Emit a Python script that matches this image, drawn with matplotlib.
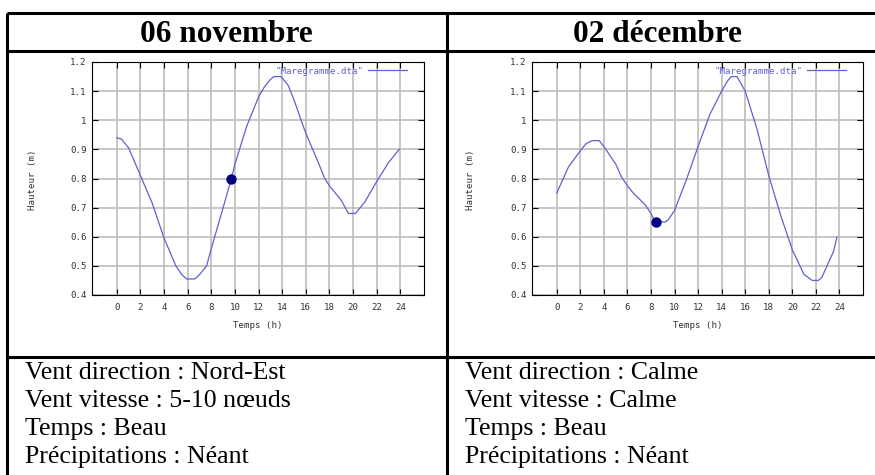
import matplotlib
matplotlib.use('Agg')
import matplotlib.pyplot as plt
from matplotlib.ticker import FuncFormatter, MultipleLocator

W, H = 875, 475  # figure size in pixels

hours_nov = [0, 0.4, 1, 2, 3, 4, 5, 5.5, 5.9, 6.6, 7, 7.6, 8, 9, 9.7, 10, 11, 12, 12.5, 13,
             13.3, 13.9, 14.5, 15, 15.6, 16, 17, 17.6, 18, 19, 19.6, 20.2, 21, 22, 23, 23.9]
height_nov = [0.94, 0.935, 0.905, 0.81, 0.715, 0.595, 0.50, 0.47, 0.455, 0.455, 0.47, 0.50, 0.56,
              0.70, 0.80, 0.85, 0.98, 1.08, 1.115, 1.14, 1.15, 1.15, 1.12, 1.07, 1.00, 0.955,
              0.86, 0.80, 0.775, 0.725, 0.68, 0.68, 0.72, 0.79, 0.855, 0.90]

hours_dec = [0, 1, 2, 2.5, 3, 3.6, 4, 5, 5.5, 6, 6.5, 7, 7.5, 8, 8.3, 9.2, 9.5, 10, 11, 12, 13,
             14, 14.5, 14.8, 15.3, 16, 17, 18, 19, 20, 21, 21.7, 22.2, 22.5, 23, 23.5, 23.8]
height_dec = [0.75, 0.84, 0.895, 0.92, 0.93, 0.93, 0.91, 0.85, 0.805, 0.775, 0.75, 0.73, 0.71,
              0.68, 0.655, 0.65, 0.66, 0.69, 0.795, 0.91, 1.02, 1.10, 1.135, 1.15, 1.15, 1.10,
              0.97, 0.81, 0.675, 0.555, 0.47, 0.45, 0.45, 0.46, 0.505, 0.55, 0.60]

# current time marker on each day
now_nov = (9.7, 0.80)
now_dec = (8.45, 0.65)

titles = ['06 novembre', '02 décembre']
infos = [
    ['Vent direction : Nord-Est', 'Vent vitesse : 5-10 nœuds', 'Temps : Beau',
     'Précipitations : Néant'],
    ['Vent direction : Calme', 'Vent vitesse : Calme', 'Temps : Beau',
     'Précipitations : Néant'],
]

fig = plt.figure(figsize=(W / 100, H / 100), dpi=100)
fig.patch.set_facecolor('white')

# table grid drawn on a full-figure overlay in pixel coordinates
tab = fig.add_axes([0, 0, 1, 1])
tab.set_xlim(0, W)
tab.set_ylim(H, 0)
tab.axis('off')
for y in (13, 51, 357):
    tab.plot([7, W], [y, y], color='black', lw=2.2, solid_capstyle='butt')
for x in (7, 447):
    tab.plot([x, x], [13, H], color='black', lw=2.2, solid_capstyle='butt')

serif = 'Liberation Serif'
title_x = [226, 657]
text_x = [25, 465]
for i in range(2):
    tab.text(title_x[i], 42, titles[i], family=serif, weight='bold', fontsize=22.5,
             ha='center', va='baseline')
    for j, line in enumerate(infos[i]):
        tab.text(text_x[i], 379 + j * 28, line, family=serif, fontsize=18.6,
                 ha='left', va='baseline')


def px_axes(left, top, right, bottom):
    return fig.add_axes([left / W, 1 - bottom / H, (right - left) / W, (bottom - top) / H])


mono = 'DejaVu Sans Mono'
small = 6.6
curve_col = '#6060d0'
panels = [
    (px_axes(92, 62, 424, 295), hours_nov, height_nov, now_nov, 32, 258),
    (px_axes(532, 62, 863, 295), hours_dec, height_dec, now_dec, 471, 698),
]

for ax, hrs, hts, now, ylab_x, xlab_x in panels:
    ax.plot(hrs, hts, color=curve_col, lw=0.9, label='"Maregramme.dta"')
    ax.plot(now[0], now[1], 'o', color='#000080', markersize=6.5)
    ax.set_xlim(-2.1, 26)
    ax.set_ylim(0.4, 1.2)
    ax.set_xticks(range(0, 25, 2))
    ax.yaxis.set_major_locator(MultipleLocator(0.1))
    ax.yaxis.set_major_formatter(FuncFormatter(lambda v, p: '%g' % round(v, 1)))
    ax.grid(True, color='#bcbcbc', lw=1.2)
    ax.set_axisbelow(True)
    ax.tick_params(direction='in', length=4, width=0.8, top=True, right=True,
                   labelsize=small, labelcolor='#333333')
    ax.tick_params(axis='x', pad=5.5)
    ax.tick_params(axis='y', pad=4)
    for lab in ax.get_xticklabels() + ax.get_yticklabels():
        lab.set_family(mono)
    for sp in ax.spines.values():
        sp.set_color('black')
        sp.set_linewidth(0.8)
    ax.legend(loc='upper right', bbox_to_anchor=(0.948, 0.98), frameon=False,
              markerfirst=False, handlelength=4.2, handletextpad=0.55,
              borderpad=0, borderaxespad=0, prop={'family': mono, 'size': small},
              labelcolor=curve_col)
    # axis titles placed in pixel coordinates like the gnuplot output
    tab.text(ylab_x, 180, 'Hauteur (m)', family=mono, fontsize=small, color='#333333',
             rotation=90, ha='center', va='center')
    tab.text(xlab_x, 325, 'Temps (h)', family=mono, fontsize=small, color='#333333',
             ha='center', va='center')

fig.savefig('out.png', dpi=100)
